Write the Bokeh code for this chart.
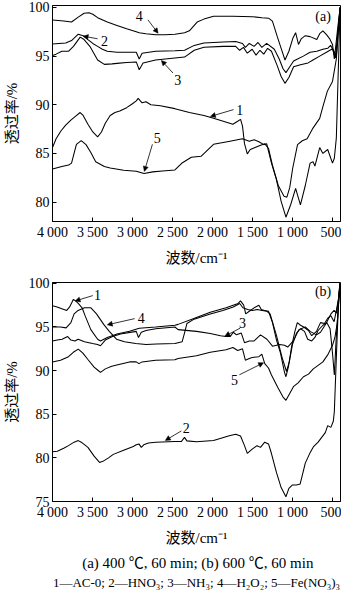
from bokeh.plotting import figure
from bokeh.models import Range1d, FixedTicker, Arrow, NormalHead, ColumnDataSource
from bokeh.layouts import column
from bokeh.embed import file_html
from bokeh.resources import INLINE
from bokeh.core.properties import value

# ---------------- data: panel (a) 400 C ----------------
A1_WN = [4000, 3955, 3895, 3835, 3774, 3714, 3654, 3617, 3557, 3496, 3436, 3388, 3340, 3279, 3219, 3159, 3073, 3001, 2953, 2929, 2880, 2832, 2771, 2651, 2470, 2289, 2107, 1987, 1866, 1745, 1685, 1649, 1625, 1600, 1565, 1528, 1468, 1407, 1347, 1299, 1251, 1178, 1106, 1070, 1034, 997, 937, 877, 817, 744, 660, 620, 564, 500, 452, 405]
A1_T = [85.6, 86.5, 87.3, 87.9, 88.4, 88.8, 89.2, 88.9, 88.0, 87.2, 86.7, 87.2, 88.1, 88.9, 89.2, 89.35, 89.7, 90.1, 90.4, 90.65, 90.2, 90.3, 90.0, 89.9, 89.6, 89.2, 88.9, 88.6, 88.3, 88.0, 88.3, 88.5, 87.8, 86.0, 84.95, 85.4, 85.6, 85.8, 86.0, 85.5, 83.8, 81.7, 80.6, 80.5, 81.5, 83.5, 85.9, 86.3, 86.5, 87.6, 88.6, 89.8, 91.4, 92.4, 94.7, 100.0]

A2_WN = [4000, 3919, 3835, 3762, 3678, 3617, 3557, 3496, 3436, 3376, 3315, 3194, 3073, 2953, 2916, 2880, 2711, 2470, 2349, 2228, 2107, 1866, 1710, 1625, 1589, 1540, 1480, 1431, 1383, 1323, 1227, 1166, 1118, 1082, 1034, 986, 937, 865, 780, 696, 620, 560, 524, 488, 452, 405]
A2_T = [96.25, 96.3, 96.35, 96.6, 97.25, 97.1, 96.7, 96.3, 96.0, 95.7, 95.5, 95.4, 95.4, 95.4, 94.7, 95.3, 95.5, 95.55, 95.6, 96.1, 96.35, 96.45, 96.5, 96.3, 95.9, 96.3, 96.0, 96.4, 95.9, 96.3, 95.7, 94.7, 93.7, 93.3, 93.9, 94.5, 94.7, 95.0, 95.4, 95.5, 95.7, 95.8, 96.1, 95.6, 95.0, 100.0]

A3_WN = [4000, 3955, 3883, 3798, 3738, 3654, 3605, 3533, 3436, 3352, 3255, 3194, 3073, 2953, 2916, 2868, 2711, 2590, 2470, 2349, 2228, 2107, 1866, 1710, 1661, 1613, 1565, 1504, 1456, 1407, 1359, 1311, 1263, 1190, 1142, 1094, 1045, 986, 901, 805, 744, 660, 575, 500, 464, 405]
A3_T = [95.05, 95.2, 95.5, 95.5, 96.0, 96.95, 96.7, 96.0, 94.6, 94.15, 94.2, 94.25, 94.35, 94.4, 93.6, 94.3, 94.6, 94.7, 94.8, 94.9, 95.6, 95.9, 96.0, 96.0, 95.6, 95.9, 95.3, 95.7, 95.1, 95.6, 95.2, 95.8, 95.5, 94.0, 92.9, 92.2, 92.8, 93.9, 94.1, 94.3, 94.6, 95.0, 95.4, 95.75, 94.8, 100.0]

A4_WN = [4000, 3859, 3762, 3678, 3605, 3545, 3496, 3436, 3315, 3194, 3073, 2953, 2916, 2832, 2711, 2590, 2470, 2349, 2289, 2192, 2107, 1987, 1745, 1504, 1383, 1299, 1251, 1190, 1142, 1094, 1045, 997, 961, 925, 889, 840, 780, 696, 660, 620, 575, 537, 500, 477, 440, 405]
A4_T = [98.7, 98.6, 98.5, 99.0, 99.4, 99.45, 99.3, 98.95, 98.5, 98.15, 97.8, 97.5, 97.4, 97.3, 97.2, 97.2, 97.25, 97.4, 97.6, 98.5, 98.8, 99.1, 99.1, 99.05, 98.95, 98.9, 98.6, 97.0, 95.8, 94.6, 95.5, 96.8, 97.4, 96.2, 96.8, 97.1, 97.0, 96.7, 97.3, 97.6, 97.2, 96.8, 96.2, 94.7, 97.5, 100.0]

A5_WN = [4000, 3883, 3798, 3762, 3701, 3641, 3581, 3521, 3460, 3352, 3279, 3111, 2953, 2856, 2747, 2626, 2470, 2385, 2265, 2144, 1987, 1782, 1625, 1540, 1480, 1420, 1359, 1323, 1263, 1202, 1142, 1082, 1022, 961, 901, 840, 780, 744, 720, 660, 620, 560, 500, 477, 452, 405]
A5_T = [83.4, 83.65, 83.8, 84.0, 85.93, 86.32, 85.9, 85.1, 84.14, 83.65, 83.5, 83.26, 83.16, 82.93, 83.1, 83.2, 83.3, 83.98, 84.6, 84.7, 85.93, 86.25, 86.5, 86.25, 86.4, 86.2, 85.9, 86.0, 84.0, 82.35, 80.07, 78.44, 79.75, 81.4, 79.7, 81.7, 84.0, 84.15, 83.7, 85.6, 85.0, 85.4, 84.0, 84.5, 86.6, 100.0]

# ---------------- data: panel (b) 600 C ----------------
B1_WN = [4000, 3943, 3883, 3822, 3786, 3738, 3702, 3678, 3630, 3593, 3521, 3436, 3400, 3315, 3194, 3037, 2916, 2711, 2470, 2430, 2200, 2028, 1830, 1680, 1650, 1610, 1585, 1540, 1480, 1420, 1390, 1350, 1300, 1250, 1200, 1150, 1100, 1082, 1050, 1010, 970, 940, 900, 860, 800, 760, 700, 650, 600, 560, 520, 480, 450, 420, 405]
B1_T = [97.43, 97.3, 97.1, 96.9, 97.3, 98.17, 97.9, 97.7, 97.2, 96.3, 94.7, 93.6, 93.4, 93.8, 94.2, 94.5, 94.85, 95.0, 95.2, 95.3, 96.1, 96.7, 97.2, 97.7, 98.0, 97.5, 96.5, 96.8, 97.2, 97.5, 97.0, 96.9, 96.8, 95.5, 93.5, 92.0, 89.8, 89.3, 90.5, 92.8, 94.5, 95.5, 95.2, 95.0, 94.6, 94.0, 94.5, 95.5, 95.4, 96.0, 96.3, 95.6, 97.0, 98.5, 100.0]

B2_WN = [4000, 3940, 3860, 3800, 3730, 3678, 3640, 3557, 3480, 3412, 3370, 3300, 3240, 3111, 2990, 2953, 2920, 2890, 2860, 2800, 2711, 2470, 2390, 2350, 2320, 2200, 1987, 1790, 1710, 1650, 1600, 1565, 1504, 1444, 1400, 1347, 1300, 1263, 1200, 1142, 1082, 1045, 1000, 950, 905, 840, 780, 740, 680, 590, 560, 520, 490, 477, 450, 420, 405]
B2_T = [80.7, 80.75, 81.1, 81.4, 81.8, 81.98, 81.8, 81.2, 80.2, 79.48, 79.6, 80.0, 80.4, 80.88, 81.3, 81.5, 81.6, 81.2, 81.5, 81.7, 81.8, 81.87, 81.87, 82.35, 81.95, 81.85, 82.0, 82.54, 82.72, 82.5, 81.4, 80.52, 81.0, 81.4, 81.2, 81.8, 81.6, 80.5, 78.3, 76.6, 75.55, 76.5, 76.9, 76.9, 77.0, 79.4, 80.6, 81.25, 81.8, 82.9, 83.7, 83.5, 84.2, 85.3, 92.0, 99.0, 100.0]

B3_WN = [4000, 3940, 3880, 3810, 3770, 3720, 3680, 3600, 3500, 3436, 3400, 3340, 3250, 3150, 2953, 2925, 2890, 2830, 2711, 2470, 2430, 2200, 2028, 1900, 1830, 1780, 1740, 1700, 1640, 1600, 1540, 1480, 1400, 1320, 1250, 1160, 1100, 1060, 990, 920, 840, 780, 700, 650, 580, 520, 480, 450, 420, 405]
B3_T = [93.4, 93.5, 93.6, 93.9, 93.5, 93.4, 93.6, 93.3, 93.1, 93.0, 92.85, 93.5, 93.9, 94.2, 94.5, 93.8, 94.4, 94.6, 94.8, 95.0, 94.7, 94.5, 94.25, 94.0, 93.9, 93.9, 94.4, 94.1, 94.3, 93.2, 93.4, 93.4, 94.1, 93.6, 92.8, 93.0, 92.9, 92.7, 93.4, 94.7, 95.0, 94.5, 94.1, 94.4, 95.4, 96.5, 96.9, 96.6, 98.5, 100.0]

B4_WN = [4000, 3900, 3830, 3770, 3730, 3680, 3600, 3520, 3450, 3360, 3290, 3200, 3100, 2960, 2830, 2700, 2470, 2430, 2380, 2350, 2320, 2230, 2028, 1870, 1740, 1660, 1620, 1560, 1500, 1440, 1380, 1320, 1280, 1200, 1130, 1075, 1040, 1000, 950, 900, 850, 810, 760, 720, 680, 620, 570, 530, 500, 477, 455, 430, 405]
B4_T = [95.0, 95.0, 94.9, 95.5, 96.5, 96.9, 97.2, 97.2, 96.5, 95.3, 94.5, 93.6, 93.3, 93.1, 93.0, 93.05, 93.1, 93.2, 93.3, 94.3, 95.4, 95.9, 96.5, 96.9, 97.3, 97.7, 97.2, 97.0, 96.9, 97.0, 96.9, 96.8, 96.5, 94.0, 91.5, 89.9, 91.0, 93.0, 94.3, 94.8, 94.5, 93.6, 93.4, 93.8, 94.6, 95.2, 95.5, 94.8, 92.0, 89.5, 93.5, 97.0, 100.0]

B5_WN = [4000, 3900, 3800, 3740, 3678, 3620, 3560, 3480, 3436, 3400, 3340, 3260, 3170, 3037, 2953, 2920, 2880, 2711, 2470, 2430, 2200, 2028, 1830, 1745, 1685, 1625, 1589, 1540, 1504, 1420, 1383, 1347, 1300, 1263, 1180, 1120, 1082, 1040, 985, 930, 863, 800, 740, 680, 620, 560, 500, 470, 440, 405]
B5_T = [91.0, 91.2, 91.6, 92.1, 92.46, 92.0, 91.3, 90.4, 90.07, 89.8, 90.2, 90.5, 90.7, 91.0, 91.0, 90.8, 91.0, 91.2, 91.25, 91.4, 91.7, 92.1, 92.4, 92.65, 92.3, 92.5, 91.2, 91.4, 91.5, 91.6, 91.9, 90.8, 90.3, 89.5, 88.0, 87.0, 86.6, 87.3, 88.2, 88.6, 89.3, 89.6, 90.2, 90.6, 91.0, 91.8, 92.9, 93.8, 95.5, 100.0]

# ---------------- axes / labels ----------------
X_TICKS = [4000, 3500, 3000, 2500, 2000, 1500, 1000, 500]
X_TICK_LABELS = ["4\u2009000", "3\u2009500", "3\u2009000", "2\u2009500", "2\u2009000", "1\u2009500", "1\u2009000", "500"]
YA_TICKS = [80, 85, 90, 95, 100]
YB_TICKS = [75, 80, 85, 90, 95, 100]
X_LABEL = "波数/cm\u207b\u00b9"
Y_LABEL = "透过率/%"
CAPTION1 = "(a) 400 \u2103, 60 min; (b) 600 \u2103, 60 min"
CAPTION2 = "1\u2014AC-0; 2\u2014HNO\u2083; 3\u2014NH\u2083; 4\u2014H\u2082O\u2082; 5\u2014Fe(NO\u2083)\u2083"

# curve tags (text, x, y) and arrows (x_start, y_start, x_end, y_end)
TAGS_A = [("4", 2916, 99.12), ("2", 3350, 96.58), ("3", 2433, 92.57), ("1", 1660, 89.5), ("5", 2690, 86.58), ("(a)", 618, 99.12)]
ARROWS_A = [(2808, 98.73, 2680, 97.35), (3436, 96.78, 3617, 97.05), (2494, 93.26, 2639, 94.55), (1736, 89.5, 2026, 88.8), (2751, 85.93, 2852, 83.15)]
TAGS_B = [("1", 3436, 98.72), ("4", 2892, 96.03), ("3", 1624, 95.41), ("5", 1724, 88.97), ("2", 2328, 83.45), ("(b)", 618, 99.08)]
ARROWS_B = [(3496, 98.6, 3717, 97.98), (2973, 95.96, 3315, 95.25), (1656, 94.86, 1845, 93.95), (1664, 89.52, 1362, 90.9), (2389, 83.09, 2590, 82.0)]

SERIF = "Liberation Serif, Noto Sans CJK SC"
W = 341


def panel(height, border_top, border_bottom, y_range, y_ticks, series, tags, arrows):
    p = figure(width=W, height=height, x_range=Range1d(4000, 400), y_range=Range1d(*y_range),
               output_backend="svg", toolbar_location=None,
               min_border_left=50, min_border_right=1,
               min_border_top=border_top, min_border_bottom=border_bottom)
    p.grid.visible = False
    p.outline_line_color = "black"
    p.outline_line_width = 1
    p.background_fill_color = "white"
    p.border_fill_color = "white"
    for wn, tr in series:
        p.line(wn, tr, line_color="black", line_width=1.05)

    xa = p.xaxis[0]
    xa.ticker = FixedTicker(ticks=X_TICKS)
    xa.major_label_overrides = dict(zip(X_TICKS, X_TICK_LABELS))
    xa.axis_label = X_LABEL
    ya = p.yaxis[0]
    ya.ticker = FixedTicker(ticks=y_ticks)
    ya.axis_label = Y_LABEL
    for ax in (xa, ya):
        ax.major_tick_in = 4
        ax.major_tick_out = 0
        ax.minor_tick_in = 0
        ax.minor_tick_out = 0
        ax.axis_line_color = "black"
        ax.major_tick_line_color = "black"
        ax.major_label_text_font = SERIF
        ax.major_label_text_font_size = "14px"
        ax.major_label_text_color = "black"
        ax.axis_label_text_font = SERIF
        ax.axis_label_text_font_size = "15px"
        ax.axis_label_text_font_style = "normal"
        ax.axis_label_text_color = "black"
    xa.major_label_standoff = 3
    xa.axis_label_standoff = 7
    ya.major_label_standoff = 3
    ya.axis_label_standoff = 6

    src = ColumnDataSource(dict(x=[t[1] for t in tags], y=[t[2] for t in tags], text=[t[0] for t in tags]))
    p.text(x="x", y="y", text="text", source=src, text_font=value("Liberation Serif"),
           text_font_size="14px", text_align="center", text_baseline="middle", text_color="black")
    for xs, ys, xe, ye in arrows:
        p.add_layout(Arrow(end=NormalHead(size=5, fill_color="black", line_color="black", line_width=0.5),
                           x_start=xs, y_start=ys, x_end=xe, y_end=ye,
                           line_color="black", line_width=0.8))
    return p


pa = panel(268, 5, 43, (78, 100.2), YA_TICKS,
           [(A1_WN, A1_T), (A2_WN, A2_T), (A3_WN, A3_T), (A4_WN, A4_T), (A5_WN, A5_T)],
           TAGS_A, ARROWS_A)
pb = panel(280, 14, 42, (75, 100.1), YB_TICKS,
           [(B1_WN, B1_T), (B2_WN, B2_T), (B3_WN, B3_T), (B4_WN, B4_T), (B5_WN, B5_T)],
           TAGS_B, ARROWS_B)

cap = figure(width=W, height=42, x_range=Range1d(0, W), y_range=Range1d(0, 42),
             output_backend="svg", toolbar_location=None,
             x_axis_location=None, y_axis_location=None, min_border=0)
cap.grid.visible = False
cap.outline_line_color = None
cap.text(x=[172], y=[28], text=[CAPTION1], text_font=value(SERIF),
         text_font_size="15px", text_align="center", text_baseline="middle", text_color="black")
cap.text(x=[170.5], y=[8], text=[CAPTION2], text_font=value(SERIF),
         text_font_size="13px", text_align="center", text_baseline="middle", text_color="black")

layout = column(pa, pb, cap, spacing=0)
open("out.html", "w").write(file_html(layout, INLINE))
